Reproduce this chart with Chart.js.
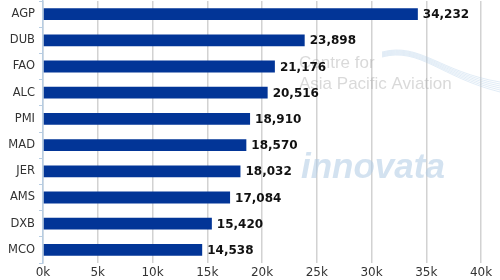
<!DOCTYPE html>
<html>
<head>
<meta charset="utf-8">
<script src="https://cdn.jsdelivr.net/npm/chart.js@4"></script>
<style>
  html, body { margin: 0; padding: 0; background: #fff; }
  #wrap { width: 500px; height: 280px; }
</style>
</head>
<body>
<div id="wrap"><canvas id="myChart"></canvas></div>
<script>
// airports and passenger numbers
var airports = ['AGP', 'DUB', 'FAO', 'ALC', 'PMI', 'MAD', 'JER', 'AMS', 'DXB', 'MCO'];
var seatValues = [34232, 23898, 21176, 20516, 18910, 18570, 18032, 17084, 15420, 14538];
var xTicks = [0, 5000, 10000, 15000, 20000, 25000, 30000, 35000, 40000];

// bold numbers at the end of each bar
var barLabels = {
  id: 'barLabels',
  afterDatasetsDraw: function(chart) {
    var ctx = chart.ctx;
    var meta = chart.getDatasetMeta(0);
    ctx.save();
    ctx.font = 'bold 12px "DejaVu Sans", Verdana, sans-serif';
    ctx.fillStyle = '#111';
    ctx.textAlign = 'left';
    ctx.textBaseline = 'middle';
    meta.data.forEach(function(bar, i) {
      ctx.fillText(seatValues[i].toLocaleString('en-US'), bar.x + 5, bar.y + 1);
    });
    ctx.restore();
  }
};

// faint watermark behind the bars
var watermark = {
  id: 'watermark',
  beforeDatasetsDraw: function(chart) {
    var ctx = chart.ctx;
    ctx.save();
    ctx.strokeStyle = 'rgba(170,200,230,0.35)';
    ctx.lineWidth = 1;
    for (var k = 0; k < 6; k++) {
      ctx.beginPath();
      ctx.moveTo(382, 52 + k);
      ctx.bezierCurveTo(420, 42 + k, 440, 72 + k, 500, 82 + k * 2);
      ctx.stroke();
    }
    ctx.fillStyle = 'rgba(160,160,160,0.4)';
    ctx.font = '17px "Liberation Sans", Arial, sans-serif';
    ctx.textBaseline = 'alphabetic';
    ctx.fillText('Centre for', 299, 68);
    ctx.fillText('Asia Pacific Aviation', 299, 89);
    ctx.fillStyle = 'rgba(175,202,228,0.55)';
    ctx.font = 'italic bold 35px "Liberation Sans", Arial, sans-serif';
    ctx.fillText('innovata', 301, 178);
    ctx.restore();
  }
};

var ctx = document.getElementById('myChart').getContext('2d');
new Chart(ctx, {
  type: 'bar',
  data: {
    labels: airports,
    datasets: [{
      data: seatValues,
      backgroundColor: '#023597',
      borderWidth: 0,
      barPercentage: 0.9,
      categoryPercentage: 0.5
    }]
  },
  options: {
    indexAxis: 'y',
    responsive: true,
    maintainAspectRatio: false,
    animation: false,
    layout: { padding: { top: 1, right: 19, left: 0, bottom: 0 } },
    plugins: {
      legend: { display: false },
      tooltip: { enabled: false }
    },
    scales: {
      x: {
        min: 0,
        max: 40000,
        afterBuildTicks: function(scale) {
          scale.ticks = xTicks.map(function(v) { return { value: v }; });
        },
        ticks: {
          color: '#333',
          font: { family: '"DejaVu Sans", Verdana, sans-serif', size: 12 },
          padding: 3,
          maxRotation: 0,
          callback: function(v) { return (v / 1000) + 'k'; }
        },
        grid: { color: '#d2d2d2', lineWidth: 1.5, drawTicks: false },
        border: { display: false },
        afterFit: function(scale) {
          scale.height = 17;
          scale.paddingLeft = 0;
        }
      },
      y: {
        ticks: {
          color: '#333',
          font: { family: '"DejaVu Sans", Verdana, sans-serif', size: 11.5 },
          padding: 4
        },
        grid: {
          offset: true,
          drawOnChartArea: false,
          tickLength: 4,
          color: '#b8cde2'
        },
        border: { display: true, color: '#b8cde2', width: 1.5 },
        afterFit: function(scale) {
          scale.width = 43;
          scale.paddingTop = 0;
          scale.paddingBottom = 0;
        }
      }
    }
  },
  plugins: [watermark, barLabels]
});
</script>
</body>
</html>
